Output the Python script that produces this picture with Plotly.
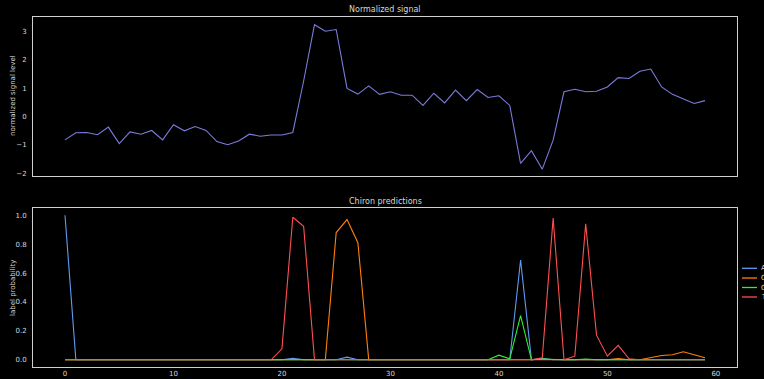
import plotly.graph_objects as go
from plotly.subplots import make_subplots

positions = list(range(60))

signal = [-0.82, -0.57, -0.56, -0.64, -0.37, -0.95, -0.54, -0.62, -0.49, -0.82,
          -0.29, -0.50, -0.35, -0.49, -0.88, -0.99, -0.86, -0.62, -0.69, -0.65,
          -0.65, -0.56, 1.25, 3.23, 3.00, 3.06, 0.99, 0.79, 1.08, 0.78,
          0.87, 0.75, 0.75, 0.39, 0.82, 0.48, 0.93, 0.56, 0.95, 0.67,
          0.73, 0.39, -1.65, -1.20, -1.85, -0.83, 0.87, 0.96, 0.87, 0.89,
          1.04, 1.37, 1.34, 1.59, 1.67, 1.04, 0.78, 0.61, 0.46, 0.56]

prob_A = [1.0] + [0.0] * 59
prob_A[21] = 0.01
prob_A[26] = 0.018
prob_A[42] = 0.69
prob_A[44] = 0.01

prob_C = [0.0] * 60
prob_C[25] = 0.88
prob_C[26] = 0.97
prob_C[27] = 0.81
prob_C[51] = 0.008
prob_C[54] = 0.014
prob_C[55] = 0.03
prob_C[56] = 0.035
prob_C[57] = 0.055
prob_C[58] = 0.035
prob_C[59] = 0.014

prob_G = [0.0] * 60
prob_G[21] = 0.005
prob_G[40] = 0.032
prob_G[41] = 0.007
prob_G[42] = 0.306
prob_G[44] = 0.005
prob_G[48] = 0.005

prob_T = [0.0] * 60
prob_T[20] = 0.076
prob_T[21] = 0.986
prob_T[22] = 0.924
prob_T[44] = 0.014
prob_T[45] = 0.98
prob_T[47] = 0.025
prob_T[48] = 0.94
prob_T[49] = 0.17
prob_T[50] = 0.025
prob_T[51] = 0.10
prob_T[52] = 0.007

labels = ["A", "C", "G", "T"]
label_colors = ["#5f9cef", "#ff8010", "#30f030", "#ff5050"]
probs = [prob_A, prob_C, prob_G, prob_T]

top_yticks = [-2, -1, 0, 1, 2, 3]
bot_yticks = [0.0, 0.2, 0.4, 0.6, 0.8, 1.0]
xticks = [0, 10, 20, 30, 40, 50, 60]

W, H = 764, 379
ml, mr, mt, mb = 33, 27, 17, 12
plot_w = W - ml - mr
plot_h = H - mt - mb

fig = make_subplots(rows=2, cols=1, shared_xaxes=False, vertical_spacing=0.09)

fig.add_trace(go.Scatter(x=positions, y=signal, mode="lines",
                         line=dict(color="#7b7bdd", width=1.1),
                         showlegend=False, hoverinfo="skip"), row=1, col=1)

for lab, col, p in zip(labels, label_colors, probs):
    fig.add_trace(go.Scatter(x=positions, y=p, mode="lines", name=lab,
                             line=dict(color=col, width=1.1),
                             showlegend=False, hoverinfo="skip"), row=2, col=1)

text_col = "#d8d8d8"
frame_col = "#d0d0d0"
font = "DejaVu Sans"

top_dom = [(H - mb - 176) / plot_h, 1.0]
bot_dom = [0.0, (H - mb - 208) / plot_h]

common_x = dict(range=[-2.95, 61.95], showgrid=False, zeroline=False,
                showline=True, mirror=True, linecolor=frame_col, linewidth=1,
                ticks="", tickvals=xticks,
                tickfont=dict(family=font, size=7, color=text_col))

fig.update_layout(
    width=W, height=H,
    margin=dict(l=ml, r=mr, t=mt, b=mb, autoexpand=False),
    paper_bgcolor="black", plot_bgcolor="black",
    showlegend=False,
    font=dict(family=font, color=text_col, size=7),
    xaxis=dict(common_x, showticklabels=False, anchor="y"),
    xaxis2=dict(common_x, showticklabels=True, anchor="y2"),
    yaxis=dict(domain=top_dom, range=[-2.09, 3.5], showgrid=False, zeroline=False,
               showline=True, mirror=True, linecolor=frame_col, linewidth=1,
               ticks="", tickvals=top_yticks, ticklabelstandoff=4,
               tickfont=dict(family=font, size=7, color=text_col)),
    yaxis2=dict(domain=bot_dom, range=[-0.05, 1.05], showgrid=False, zeroline=False,
                showline=True, mirror=True, linecolor=frame_col, linewidth=1,
                ticks="", tickvals=bot_yticks, tickformat=".1f", ticklabelstandoff=4,
                tickfont=dict(family=font, size=7, color=text_col)),
)

def px_x(px):
    return (px - ml) / plot_w

def px_y(py):
    return (H - mb - py) / plot_h

annotations = [
    dict(text="Normalized signal", x=0.5, y=px_y(10), xref="paper", yref="paper",
         showarrow=False, font=dict(family=font, size=8, color=text_col),
         xanchor="center", yanchor="middle"),
    dict(text="Chiron predictions", x=0.5, y=px_y(201), xref="paper", yref="paper",
         showarrow=False, font=dict(family=font, size=8, color=text_col),
         xanchor="center", yanchor="middle"),
    dict(text="normalized signal level", x=px_x(13), y=px_y(96), xref="paper", yref="paper",
         showarrow=False, textangle=-90, font=dict(family=font, size=7, color=text_col),
         xanchor="center", yanchor="middle"),
    dict(text="label probability", x=px_x(13), y=px_y(288), xref="paper", yref="paper",
         showarrow=False, textangle=-90, font=dict(family=font, size=7, color=text_col),
         xanchor="center", yanchor="middle"),
]

shapes = []
leg_y = [268.3, 278, 287.5, 297]
for lab, col, yy in zip(labels, label_colors, leg_y):
    shapes.append(dict(type="line", xref="paper", yref="paper",
                       x0=px_x(742), x1=px_x(757), y0=px_y(yy), y1=px_y(yy),
                       line=dict(color=col, width=1.3)))
    annotations.append(dict(text=lab, x=px_x(758.5), y=px_y(yy), xref="paper", yref="paper",
                            showarrow=False, xanchor="left", yanchor="middle",
                            font=dict(family=font, size=7, color=text_col)))

fig.update_layout(annotations=annotations, shapes=shapes)

fig.write_html("out.html", config={"displayModeBar": False},
               post_script="document.body.style.margin='0px';document.body.style.overflow='hidden';")
